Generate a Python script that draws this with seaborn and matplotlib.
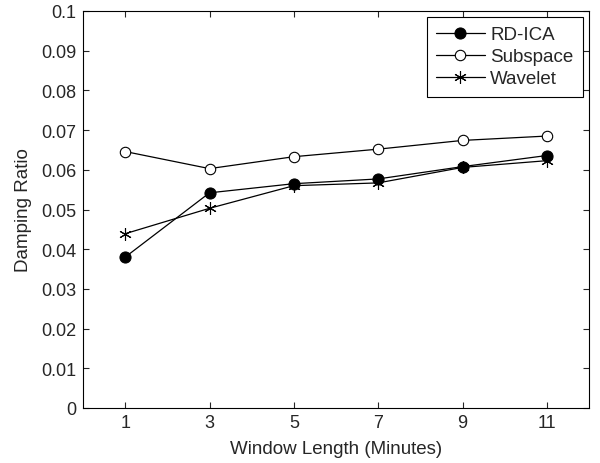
import matplotlib
matplotlib.use('Agg')
import matplotlib.pyplot as plt
import seaborn as sns
import pandas as pd

# window lengths (minutes) and damping ratio estimates
window = [1, 3, 5, 7, 9, 11]
rd_ica = [0.0380, 0.0542, 0.0565, 0.0577, 0.0608, 0.0636]
subspace = [0.0646, 0.0603, 0.0633, 0.0652, 0.0674, 0.0685]
wavelet = [0.0439, 0.0503, 0.0560, 0.0567, 0.0606, 0.0623]

df = pd.DataFrame({'Window': window, 'RD-ICA': rd_ica,
                   'Subspace': subspace, 'Wavelet': wavelet})

sns.set_style('ticks')
plt.rcParams['font.family'] = ['Liberation Sans', 'DejaVu Sans']

fig = plt.figure(figsize=(6, 4.64), dpi=100)
ax = fig.add_axes([83 / 600, 1 - 409 / 464, 506 / 600, 397 / 464])

sns.lineplot(data=df, x='Window', y='RD-ICA', ax=ax, color='black', lw=0.9,
             marker='o', markersize=8, markerfacecolor='black',
             markeredgecolor='black', label='RD-ICA')
sns.lineplot(data=df, x='Window', y='Subspace', ax=ax, color='black', lw=0.9,
             marker='o', markersize=7.5, markerfacecolor='white',
             markeredgecolor='black', markeredgewidth=0.8, label='Subspace')
sns.lineplot(data=df, x='Window', y='Wavelet', ax=ax, color='black', lw=0.9,
             marker=(6, 2, 0), markersize=9, markeredgecolor='black',
             markeredgewidth=0.8, label='Wavelet')

ax.set_xlim(0, 12)
ax.set_ylim(0, 0.1)
ax.set_xticks(window)
ax.set_yticks([i / 100 for i in range(11)])
ax.set_yticklabels(['0'] + ['%g' % (i / 100) for i in range(1, 11)])
ax.set_xlabel('Window Length (Minutes)', fontsize=13.5, labelpad=6)
ax.set_ylabel('Damping Ratio', fontsize=13.5, labelpad=7)
ax.tick_params(direction='in', labelsize=13, length=4, width=0.8,
               top=True, right=True, pad=4.5)
for s in ax.spines.values():
    s.set_visible(True)
    s.set_linewidth(0.8)
    s.set_color('black')

leg = ax.legend(loc='upper right', fontsize=13.5, frameon=True, fancybox=False,
                edgecolor='black', borderaxespad=0.32, handlelength=2.6,
                labelspacing=0.25, borderpad=0.5, handletextpad=0.3,
                framealpha=1)
leg.get_frame().set_linewidth(0.8)

fig.savefig('out.png', dpi=100)
